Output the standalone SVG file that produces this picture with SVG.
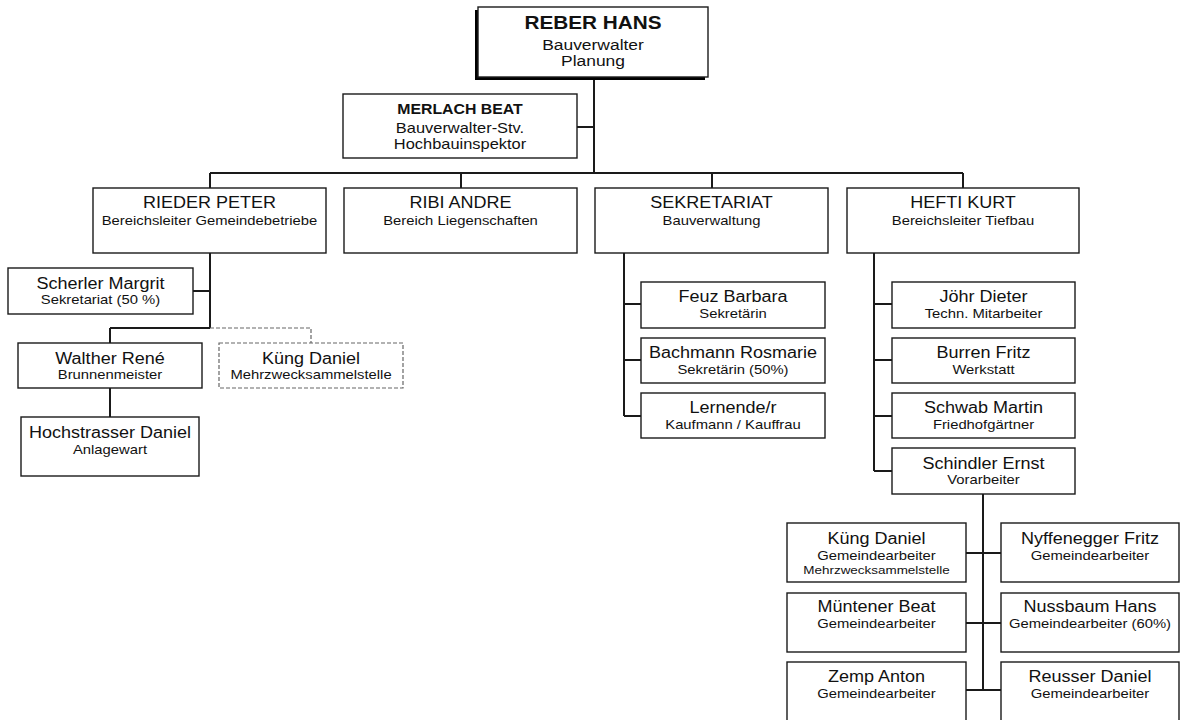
<svg xmlns="http://www.w3.org/2000/svg" width="1183" height="720" viewBox="0 0 1183 720">
<style>
text{font-family:"Liberation Sans",Arial,sans-serif;fill:#111;text-anchor:middle}
.n{font-size:15.8px}
.s{font-size:13px}
.xs{font-size:11.8px}
.rb{font-size:18.2px;font-weight:bold}
.rs{font-size:15.3px}
.mb{font-size:13.9px;font-weight:bold}
.ms{font-size:14.4px}
.box{fill:#fff;stroke:#1a1a1a;stroke-width:1.4}
.dbox{fill:#fff;stroke:#666;stroke-width:1.2;stroke-dasharray:4 2}
.ln{fill:none;stroke:#1a1a1a;stroke-width:2}
.dln{fill:none;stroke:#666;stroke-width:1.2;stroke-dasharray:4 2}
</style>
<rect width="1183" height="720" fill="#fff"/>
<g id="connectors">
<path class="ln" d="M594 77V173M577 127H594M210 173H963M210 173V188M461 173V188M712 173V188M963 173V188"/>
<path class="ln" d="M210 253V328M193 291H210M110 328H210M110 328V343M110 388V417"/>
<path class="dln" d="M210 328H311V343"/>
<path class="ln" d="M624 253V416M624 304H641M624 360H641M624 416H641"/>
<path class="ln" d="M874 253V471M874 304H892M874 360H892M874 416H892M874 471H892"/>
<path class="ln" d="M983 494V690M966 553H1001M966 623H1001M966 690H1001"/>
</g>
<g id="reber">
<rect x="475" y="10" width="230" height="70" fill="#000"/>
<rect class="box" x="478" y="7" width="230" height="70"/>
<text class="rb" transform="translate(593 29.2) scale(1.14 1)">REBER HANS</text>
<text class="rs" transform="translate(593 50.2) scale(1.14 1)">Bauverwalter</text>
<text class="rs" transform="translate(593 66.2) scale(1.14 1)">Planung</text>
</g>
<g id="merlach">
<rect class="box" x="343" y="94" width="234" height="64"/>
<text class="mb" transform="translate(460 114) scale(1.14 1)">MERLACH BEAT</text>
<text class="ms" transform="translate(460 132.9) scale(1.14 1)">Bauverwalter-Stv.</text>
<text class="ms" transform="translate(460 149.2) scale(1.14 1)">Hochbauinspektor</text>
</g>
<g id="rieder">
<rect class="box" x="93" y="188" width="233" height="65"/>
<text class="n" transform="translate(209.5 208.4) scale(1.14 1)">RIEDER PETER</text>
<text class="s" transform="translate(209.5 224.7) scale(1.14 1)">Bereichsleiter Gemeindebetriebe</text>
</g>
<g id="ribi">
<rect class="box" x="344" y="188" width="233" height="65"/>
<text class="n" transform="translate(460.5 208.4) scale(1.14 1)">RIBI ANDRE</text>
<text class="s" transform="translate(460.5 224.7) scale(1.14 1)">Bereich Liegenschaften</text>
</g>
<g id="sekretariat">
<rect class="box" x="595" y="188" width="233" height="65"/>
<text class="n" transform="translate(711.5 208.4) scale(1.14 1)">SEKRETARIAT</text>
<text class="s" transform="translate(711.5 224.7) scale(1.14 1)">Bauverwaltung</text>
</g>
<g id="hefti">
<rect class="box" x="847" y="188" width="232" height="65"/>
<text class="n" transform="translate(963 208.4) scale(1.14 1)">HEFTI KURT</text>
<text class="s" transform="translate(963 224.7) scale(1.14 1)">Bereichsleiter Tiefbau</text>
</g>
<g id="scherler">
<rect class="box" x="8" y="268" width="185" height="46"/>
<text class="n" transform="translate(100.5 289) scale(1.14 1)">Scherler Margrit</text>
<text class="s" transform="translate(100.5 304) scale(1.14 1)">Sekretariat (50 %)</text>
</g>
<g id="walther">
<rect class="box" x="18" y="343" width="184" height="45"/>
<text class="n" transform="translate(110 364) scale(1.14 1)">Walther René</text>
<text class="s" transform="translate(110 379) scale(1.14 1)">Brunnenmeister</text>
</g>
<g id="kueng1">
<rect class="dbox" x="219" y="343" width="184" height="45"/>
<text class="n" transform="translate(311 364) scale(1.14 1)">Küng Daniel</text>
<text class="s" transform="translate(311 379) scale(1.14 1)">Mehrzwecksammelstelle</text>
</g>
<g id="hochstrasser">
<rect class="box" x="21" y="417" width="178" height="59"/>
<text class="n" transform="translate(110 438) scale(1.14 1)">Hochstrasser Daniel</text>
<text class="s" transform="translate(110 453.7) scale(1.14 1)">Anlagewart</text>
</g>
<g id="feuz">
<rect class="box" x="641" y="282" width="184" height="46"/>
<text class="n" transform="translate(733 302.4) scale(1.14 1)">Feuz Barbara</text>
<text class="s" transform="translate(733 318) scale(1.14 1)">Sekretärin</text>
</g>
<g id="bachmann">
<rect class="box" x="641" y="338" width="184" height="45"/>
<text class="n" transform="translate(733 358.2) scale(1.14 1)">Bachmann Rosmarie</text>
<text class="s" transform="translate(733 373.7) scale(1.14 1)">Sekretärin (50%)</text>
</g>
<g id="lernende">
<rect class="box" x="641" y="393" width="184" height="45"/>
<text class="n" transform="translate(733 413.4) scale(1.14 1)">Lernende/r</text>
<text class="s" transform="translate(733 429) scale(1.14 1)">Kaufmann / Kauffrau</text>
</g>
<g id="joehr">
<rect class="box" x="892" y="282" width="183" height="46"/>
<text class="n" transform="translate(983.5 302.4) scale(1.14 1)">Jöhr Dieter</text>
<text class="s" transform="translate(983.5 318) scale(1.14 1)">Techn. Mitarbeiter</text>
</g>
<g id="burren">
<rect class="box" x="892" y="338" width="183" height="45"/>
<text class="n" transform="translate(983.5 358.4) scale(1.14 1)">Burren Fritz</text>
<text class="s" transform="translate(983.5 374) scale(1.14 1)">Werkstatt</text>
</g>
<g id="schwab">
<rect class="box" x="892" y="393" width="183" height="45"/>
<text class="n" transform="translate(983.5 413.4) scale(1.14 1)">Schwab Martin</text>
<text class="s" transform="translate(983.5 429) scale(1.14 1)">Friedhofgärtner</text>
</g>
<g id="schindler">
<rect class="box" x="892" y="448" width="183" height="46"/>
<text class="n" transform="translate(983.5 469) scale(1.14 1)">Schindler Ernst</text>
<text class="s" transform="translate(983.5 484) scale(1.14 1)">Vorarbeiter</text>
</g>
<g id="kueng2">
<rect class="box" x="787" y="523" width="179" height="59"/>
<text class="n" transform="translate(876.5 544) scale(1.14 1)">Küng Daniel</text>
<text class="s" transform="translate(876.5 559.7) scale(1.14 1)">Gemeindearbeiter</text>
<text class="xs" transform="translate(876.5 573.5) scale(1.14 1)">Mehrzwecksammelstelle</text>
</g>
<g id="nyffenegger">
<rect class="box" x="1001" y="523" width="178" height="59"/>
<text class="n" transform="translate(1090 544) scale(1.14 1)">Nyffenegger Fritz</text>
<text class="s" transform="translate(1090 559.7) scale(1.14 1)">Gemeindearbeiter</text>
</g>
<g id="muentener">
<rect class="box" x="787" y="593" width="179" height="59"/>
<text class="n" transform="translate(876.5 612.4) scale(1.14 1)">Müntener Beat</text>
<text class="s" transform="translate(876.5 628) scale(1.14 1)">Gemeindearbeiter</text>
</g>
<g id="nussbaum">
<rect class="box" x="1001" y="593" width="178" height="59"/>
<text class="n" transform="translate(1090 612.4) scale(1.14 1)">Nussbaum Hans</text>
<text class="s" transform="translate(1090 628) scale(1.14 1)">Gemeindearbeiter (60%)</text>
</g>
<g id="zemp">
<rect class="box" x="787" y="662" width="179" height="62"/>
<text class="n" transform="translate(876.5 682.4) scale(1.14 1)">Zemp Anton</text>
<text class="s" transform="translate(876.5 698) scale(1.14 1)">Gemeindearbeiter</text>
</g>
<g id="reusser">
<rect class="box" x="1001" y="662" width="178" height="62"/>
<text class="n" transform="translate(1090 682.4) scale(1.14 1)">Reusser Daniel</text>
<text class="s" transform="translate(1090 698) scale(1.14 1)">Gemeindearbeiter</text>
</g>
</svg>
